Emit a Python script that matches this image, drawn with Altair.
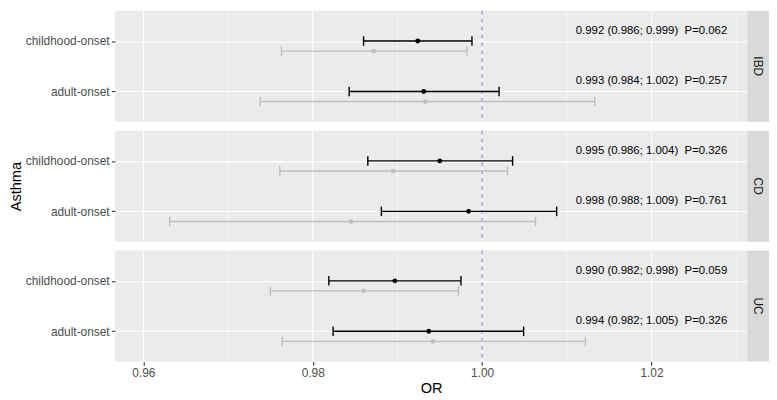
import altair as alt
import pandas as pd

# ---- data ----
outcomes = ["IBD", "IBD", "CD", "CD", "UC", "UC"]
onsets = ["childhood-onset", "adult-onset"] * 3
levels = [1, 2, 1, 2, 1, 2]
or_black = [0.9924, 0.9931, 0.9950, 0.9984, 0.9897, 0.9937]
lo_black = [0.9860, 0.9843, 0.9865, 0.9881, 0.9819, 0.9824]
hi_black = [0.9988, 1.0020, 1.0036, 1.0088, 0.9975, 1.0049]
or_grey = [0.9872, 0.9933, 0.9895, 0.9845, 0.9860, 0.9942]
lo_grey = [0.9763, 0.9738, 0.9761, 0.9631, 0.9750, 0.9764]
hi_grey = [0.9982, 1.0133, 1.0030, 1.0063, 0.9972, 1.0122]
labels = [
    "0.992 (0.986; 0.999) \u00a0P=0.062",
    "0.993 (0.984; 1.002) \u00a0P=0.257",
    "0.995 (0.986; 1.004) \u00a0P=0.326",
    "0.998 (0.988; 1.009) \u00a0P=0.761",
    "0.990 (0.982; 0.998) \u00a0P=0.059",
    "0.994 (0.982; 1.005) \u00a0P=0.326",
]
label_x = [1.02] * 6
panels = ["IBD", "CD", "UC"]
major_ticks = [0.96, 0.98, 1.00, 1.02]
minor_ticks = [0.97, 0.99, 1.01, 1.03]
ref_or = [1.0]
x_domain = [0.95665, 1.0313]

df = pd.DataFrame({
    "outcome": outcomes, "onset": onsets, "level": levels,
    "or_b": or_black, "lo_b": lo_black, "hi_b": hi_black,
    "or_g": or_grey, "lo_g": lo_grey, "hi_g": hi_grey,
    "label": labels, "lx": label_x,
})

FONT = "Liberation Sans"
W, H, S = 638, 112, 22
X_SCALE = alt.Scale(domain=x_domain, nice=False, zero=False)
Y_SCALE = alt.Scale(domain=[0.4, 2.6], reverse=True, nice=False, zero=False)
BLACK = "#000000"
GREY = "#BEBEBE"


def panel(name, idx):
    bottom = idx == 2
    mid = idx == 1
    if bottom:
        xaxis = alt.Axis(values=major_ticks, format=".2f", grid=False, domain=False,
                         tickColor="#333333", tickSize=3.7, tickWidth=1.07,
                         labelColor="#4D4D4D", labelFontSize=12, labelFont=FONT,
                         labelPadding=2.5, title="OR", titleFont=FONT,
                         titleFontSize=14.7, titleFontWeight="normal",
                         titleColor="#000000", titlePadding=2)
    else:
        xaxis = None
    yaxis = alt.Axis(values=[1, 2],
                     labelExpr="datum.value == 1 ? 'childhood-onset' : 'adult-onset'",
                     grid=True, gridColor="white", gridWidth=1.07, domain=False,
                     tickColor="#333333", tickSize=3.7, tickWidth=1.07,
                     labelColor="#4D4D4D", labelFontSize=12, labelFont=FONT,
                     labelPadding=2.2, title="Asthma", titleFont=FONT,
                     titleFontSize=14.7, titleFontWeight="normal",
                     titleColor="#000000", titlePadding=2,
                     titleOpacity=1 if mid else 0)

    def X(f):
        return alt.X(f, type="quantitative", scale=X_SCALE, axis=xaxis, title="OR")

    def Y(f):
        return alt.Y(f, type="quantitative", scale=Y_SCALE, axis=yaxis, title="Asthma")

    d = df[df.outcome == name]
    base = alt.Chart(d).transform_calculate(
        yg="datum.level + 0.2",
        yt="datum.level - 0.2",
        cb1="datum.level - 0.095",
        cb2="datum.level + 0.095",
        cg1="datum.level + 0.2 - 0.095",
        cg2="datum.level + 0.2 + 0.095",
    )

    gmaj = alt.Chart(pd.DataFrame({"g": major_ticks})).mark_rule(
        color="white", strokeWidth=1.07).encode(x=X("g"))
    gmin = alt.Chart(pd.DataFrame({"g": minor_ticks})).mark_rule(
        color="white", strokeWidth=0.53).encode(x=X("g"))
    ref = alt.Chart(pd.DataFrame({"r": ref_or})).mark_rule(
        color="#7272E2", strokeWidth=1.0, strokeDash=[4, 4]).encode(x=X("r"))

    lw = 1.4
    g_bar = base.mark_rule(color=GREY, strokeWidth=lw).encode(x=X("lo_g"), x2="hi_g", y=Y("yg:Q"))
    g_c1 = base.mark_rule(color=GREY, strokeWidth=lw).encode(x=X("lo_g"), y=Y("cg1:Q"), y2="cg2:Q")
    g_c2 = base.mark_rule(color=GREY, strokeWidth=lw).encode(x=X("hi_g"), y=Y("cg1:Q"), y2="cg2:Q")
    g_pt = base.mark_circle(color=GREY, size=22, opacity=1).encode(x=X("or_g"), y=Y("yg:Q"))

    b_bar = base.mark_rule(color=BLACK, strokeWidth=lw).encode(x=X("lo_b"), x2="hi_b", y=Y("level"))
    b_c1 = base.mark_rule(color=BLACK, strokeWidth=lw).encode(x=X("lo_b"), y=Y("cb1:Q"), y2="cb2:Q")
    b_c2 = base.mark_rule(color=BLACK, strokeWidth=lw).encode(x=X("hi_b"), y=Y("cb1:Q"), y2="cb2:Q")
    b_pt = base.mark_circle(color=BLACK, size=24, opacity=1).encode(x=X("or_b"), y=Y("level"))

    txt = base.mark_text(font=FONT, fontSize=11.5, color="#000000", align="center",
                         baseline="middle").encode(x=X("lx"), y=Y("yt:Q"), text="label:N")

    p = alt.layer(gmaj, gmin, ref, g_bar, g_c1, g_c2, g_pt, b_bar, b_c1, b_c2, b_pt, txt).properties(
        width=W, height=H,
        view=alt.ViewBackground(fill="#EBEBEB", strokeWidth=0),
    )

    strip = alt.Chart(pd.DataFrame({"panel": [name]})).mark_text(
        angle=90, font=FONT, fontSize=12, color="#1A1A1A", align="center", baseline="middle"
    ).encode(text="panel:N", x=alt.value(S / 2), y=alt.value(H / 2)).properties(
        width=S, height=H,
        view=alt.ViewBackground(fill="#D9D9D9", strokeWidth=0),
    )
    return alt.hconcat(p, strip, spacing=0)


rows = [panel(n, i) for i, n in enumerate(panels)]
chart = alt.vconcat(*rows, spacing=7).properties(padding=0).configure(background="white")

chart.save("out.html", embed_options={"renderer": "svg", "actions": False})
